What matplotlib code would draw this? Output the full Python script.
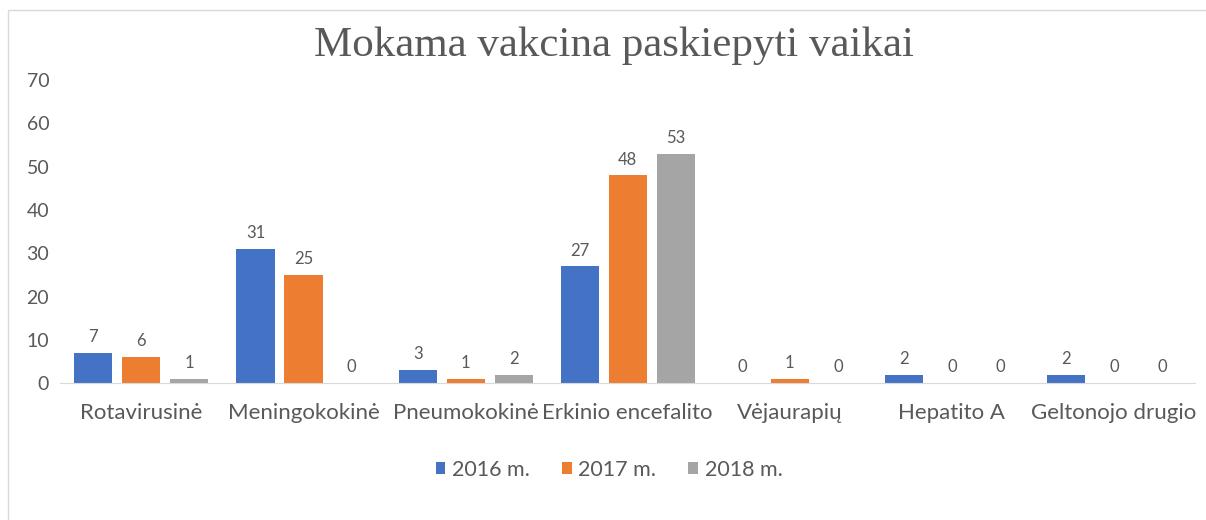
import matplotlib
matplotlib.use("Agg")
import matplotlib.pyplot as plt
from matplotlib.patches import Rectangle
import numpy as np

categories = ["Rotavirusinė", "Meningokokinė", "Pneumokokinė", "Erkinio encefalito",
              "Vėjaurapių", "Hepatito A", "Geltonojo drugio"]
years = ["2016 m.", "2017 m.", "2018 m."]
v2016 = [7, 31, 3, 27, 0, 2, 2]
v2017 = [6, 25, 1, 48, 1, 0, 0]
v2018 = [1, 0, 2, 53, 0, 0, 0]
colors = ["#4472C4", "#ED7D31", "#A5A5A5"]
txt = "#595959"

plt.rcParams['font.family'] = ['Lato', 'DejaVu Sans']

fig = plt.figure(figsize=(12.06, 5.2), dpi=100)
ax = fig.add_axes([0.05, 0.263, 0.941, 0.583])

x = np.arange(len(categories))
w = 0.235
offs = [-0.296, 0.0, 0.296]
for vals, off, c, lab in zip([v2016, v2017, v2018], offs, colors, years):
    bars = ax.bar(x + off, vals, width=w, color=c, label=lab)
    for b, v in zip(bars, vals):
        ax.text(b.get_x() + b.get_width() / 2, v + 1.8, str(v), ha="center", va="bottom",
                fontsize=12, color=txt)

ax.set_xlim(-0.5, len(categories) - 0.5)
ax.set_ylim(0, 70)
ax.set_yticks(range(0, 71, 10))
ax.set_xticks(x)
ax.set_xticklabels(categories, fontsize=16, color=txt)
ax.tick_params(axis="y", labelsize=14, labelcolor=txt, length=0, pad=8)
ax.tick_params(axis="x", length=0, pad=14)
for s in ["top", "right", "left"]:
    ax.spines[s].set_visible(False)
ax.spines["bottom"].set_color("#D9D9D9")

fig.text(0.509, 0.912, "Mokama vakcina paskiepyti vaikai", ha="center", va="center",
         fontsize=31, color=txt, family="Liberation Serif")

fig.legend(loc="center", bbox_to_anchor=(0.505, 0.097), ncol=3, frameon=False,
           fontsize=15.5, handlelength=0.45, handleheight=0.45, handletextpad=0.3,
           columnspacing=1.5, labelcolor=txt)

fig.patches.append(Rectangle((8 / 1206, -0.1), 1.2, 1 - 10 / 520 + 0.1, transform=fig.transFigure,
                             fill=False, edgecolor="#D9D9D9", linewidth=1))

fig.savefig("out.png", dpi=100)
